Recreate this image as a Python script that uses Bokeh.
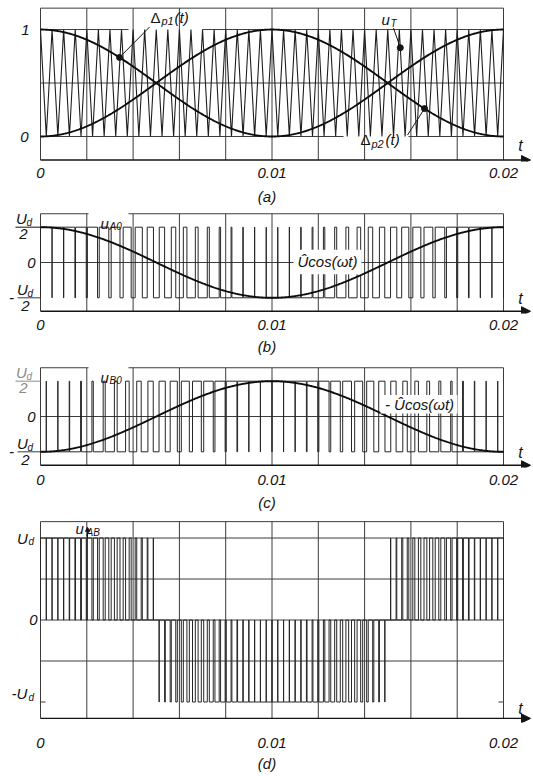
import numpy as np
from bokeh.plotting import figure
from bokeh.layouts import column
from bokeh.models import Range1d, FixedTicker, Label, Arrow, NormalHead
from bokeh.embed import file_html
from bokeh.resources import INLINE

# ---------------- data ----------------
T_PERIOD = 0.02            # fundamental period [s]
CARRIER_PERIODS = 40       # triangle carrier periods per fundamental period
MOD_INDEX = 1.0            # modulation index
x_ticks = [0, 0.01, 0.02]
x_tick_labels = ["0", "0.01", "0.02"]
grid_t = [0.0, 0.002, 0.004, 0.006, 0.008, 0.010, 0.012, 0.014, 0.016, 0.018, 0.020]
a_levels = [1.2, 1.0, 0.5, 0.0, -0.22]       # panel (a) frame / grid levels
bc_levels = [1.38, 1.0, 0.0, -1.0, -1.38]    # panels (b), (c): Ud/2 = 1
d_levels = [1.2, 1.0, 0.5, 0.0, -0.5, -1.0, -1.2]  # panel (d): Ud = 1
panel_labels = ["(a)", "(b)", "(c)", "(d)"]

# ---------------- waveforms ----------------
t = np.linspace(0.0, T_PERIOD, 200001)
omega = 2 * np.pi / T_PERIOD
Tc = T_PERIOD / CARRIER_PERIODS
cosw = MOD_INDEX * np.cos(omega * t)
dp1 = (1 + cosw) / 2
dp2 = (1 - cosw) / 2
uT = np.abs(((t / Tc) % 1.0) * 2 - 1)
uA0 = np.where(dp1 > uT, 1.0, -1.0)
uB0 = np.where(dp2 > uT, 1.0, -1.0)
uAB = (uA0 - uB0) / 2

tv = np.arange(2 * CARRIER_PERIODS + 1) * Tc / 2
vv = np.where(np.arange(2 * CARRIER_PERIODS + 1) % 2 == 0, 1.0, 0.0)

tcurve = np.linspace(0.0, T_PERIOD, 600)
ccurve = MOD_INDEX * np.cos(omega * tcurve)


def step_path(tt, v):
    idx = np.nonzero(np.diff(v))[0]
    xs = [tt[0]]
    ys = [v[0]]
    for i in idx:
        tm = 0.5 * (tt[i] + tt[i + 1])
        xs += [tm, tm]
        ys += [v[i], v[i + 1]]
    xs.append(tt[-1])
    ys.append(v[-1])
    return xs, ys


# ---------------- layout helpers ----------------
FONT = "Liberation Sans"
GRID = "#3c3c3c"
INK = "#141414"
WAVE = "#262626"
FIG_W = 533
PX_T0, PX_T1 = 40, 503


def X(px):
    return (px - PX_T0) / (PX_T1 - PX_T0) * T_PERIOD


XS, XE = X(0), X(FIG_W)


def make_panel(fig_top, h, mbt, mbb, y0, y1, axlabel, tick_so, lab_so):
    p = figure(width=FIG_W, height=h, x_range=Range1d(XS, XE), y_range=Range1d(y0, y1),
               output_backend="svg", toolbar_location=None, y_axis_location=None,
               min_border_left=0, min_border_right=0, min_border_top=mbt, min_border_bottom=mbb)
    p.outline_line_color = None
    p.grid.visible = False
    p.background_fill_color = "white"
    ax = p.xaxis[0]
    ax.ticker = FixedTicker(ticks=x_ticks)
    ax.major_label_overrides = dict(zip(x_ticks, x_tick_labels))
    ax.axis_line_color = None
    ax.major_tick_line_color = None
    ax.minor_tick_line_color = None
    ax.major_tick_out = 0
    ax.major_tick_in = 0
    ax.major_label_standoff = tick_so
    ax.major_label_text_font = FONT
    ax.major_label_text_font_style = "italic"
    ax.major_label_text_font_size = "15px"
    ax.major_label_text_color = INK
    ax.axis_label = axlabel
    ax.axis_label_standoff = lab_so
    ax.axis_label_text_font = FONT
    ax.axis_label_text_font_style = "italic"
    ax.axis_label_text_font_size = "15px"
    ax.axis_label_text_color = INK
    ft = fig_top + mbt
    fh = h - mbt - mbb

    def Y(py):
        return y1 - (py - ft) / fh * (y1 - y0)
    return p, Y


def lab(p, x, y, s, size=15, align="center", color=INK, style="italic"):
    p.add_layout(Label(x=x, y=y, text=s, text_font=FONT, text_font_style=style,
                       text_font_size=f"{size}px", text_align=align, text_baseline="middle",
                       text_color=color))


def hseg(p, y, a=0.0, b=T_PERIOD, color=GRID, w=1):
    p.segment(x0=[a], y0=[y], x1=[b], y1=[y], line_color=color, line_width=w)


def vgrid(p, ybot, ytop):
    p.segment(x0=grid_t, y0=[ybot] * len(grid_t), x1=grid_t, y1=[ytop] * len(grid_t),
              line_color=GRID, line_width=1)


def axis_arrow(p, y):
    p.add_layout(Arrow(x_start=0.0, y_start=y, x_end=X(530), y_end=y, line_color=INK, line_width=1.3,
                       end=NormalHead(size=9, fill_color=INK, line_color=INK)))


def white_box(p, l, r, top, bot):
    p.quad(left=[l], right=[r], top=[top], bottom=[bot], fill_color="white", line_color=None)


# ---------------- panel (a) ----------------
pa, Ya = make_panel(0, 207, 5, 43, -0.2339, 1.2248, panel_labels[0], 6, 7)
a_top, a_one, a_half, a_zero, a_bot = a_levels
vgrid(pa, a_bot, a_top)
hseg(pa, a_top)
hseg(pa, a_half)
hseg(pa, a_one, 0.0, X(128))
hseg(pa, a_one, X(202), T_PERIOD)
hseg(pa, a_zero, 0.0, X(343))
hseg(pa, a_zero, X(408), T_PERIOD)
pa.line(tv, vv, line_color="#1e1e1e", line_width=1.1)
pa.line(tcurve, (1 + ccurve) / 2, line_color="#0d0d0d", line_width=1.9)
pa.line(tcurve, (1 - ccurve) / 2, line_color="#0d0d0d", line_width=1.9)
axis_arrow(pa, a_bot)
# markers with leader lines
t_d1 = X(119)
y_d1 = (1 + MOD_INDEX * np.cos(omega * t_d1)) / 2
t_d2 = X(424)
y_d2 = (1 - MOD_INDEX * np.cos(omega * t_d2)) / 2
t_dT = 31.085 * Tc
y_dT = abs(((t_dT / Tc) % 1.0) * 2 - 1)
pa.line([X(149), t_d1], [Ya(27), y_d1], line_color=INK, line_width=1)
pa.line([X(393), t_dT], [Ya(28), y_dT], line_color=INK, line_width=1)
pa.line([X(407), t_d2], [Ya(137), y_d2], line_color=INK, line_width=1)
pa.scatter([t_d1, t_dT, t_d2], [y_d1, y_dT, y_d2], size=6, color=INK)
lab(pa, X(150), Ya(17), "\u0394", 15, "left", style="normal")
lab(pa, X(161), Ya(21), "p1", 11, "left")
lab(pa, X(174), Ya(17), "(t)", 15, "left")
lab(pa, X(381), Ya(19), "u", 15, "left")
lab(pa, X(390), Ya(23), "T", 10, "left")
lab(pa, X(360), Ya(142), "\u0394", 15, "left", style="normal")
lab(pa, X(371), Ya(146), "p2", 11, "left")
lab(pa, X(385), Ya(142), "(t)", 15, "left")
lab(pa, X(25), Ya(30), "1", 15)
lab(pa, X(24), Ya(139), "0", 15)
lab(pa, X(520), Ya(148), "t", 16)

# ---------------- panels (b) and (c) ----------------
def pwm_panel(fig_top, h, mbt, mbb, axlabel, tick_so, lab_so, wave, sign, sub, top_col):
    p, Y = make_panel(fig_top, h, mbt, mbb, -1.444, 1.444, axlabel, tick_so, lab_so)
    b_top, b_one, b_zero, b_mone, b_bot = bc_levels
    vgrid(p, b_bot, b_top)
    hseg(p, b_top)
    hseg(p, b_zero)
    xs, ys = step_path(t, wave)
    p.line(xs, ys, line_color=WAVE, line_width=1)
    p.line(tcurve, sign * ccurve, line_color="#0d0d0d", line_width=1.9)
    axis_arrow(p, b_bot)
    # fraction tick labels
    p.segment(x0=[X(15)], y0=[b_one], x1=[X(40)], y1=[b_one], line_color=top_col, line_width=1)
    p.segment(x0=[X(17)], y0=[b_mone], x1=[X(40)], y1=[b_mone], line_color=GRID, line_width=1)
    ppu = 36.0
    lab(p, X(21), b_one + 9 / ppu, "U", 15, color=top_col)
    lab(p, X(26), b_one + 5 / ppu, "d", 10, "left", color=top_col)
    lab(p, X(23), b_one - 7 / ppu, "2", 15, color=top_col)
    lab(p, X(31), b_zero, "0", 15)
    lab(p, X(11), b_mone, "-", 15)
    lab(p, X(22), b_mone + 8 / ppu, "U", 15)
    lab(p, X(27), b_mone + 4 / ppu, "d", 10, "left")
    lab(p, X(25), b_mone - 8 / ppu, "2", 15)
    # signal name at top left on white
    white_box(p, X(88), X(128), b_top + 0.2, b_one + 0.03)
    lab(p, X(100), b_one + 4 / ppu, "u", 15, "left")
    lab(p, X(109), b_one + 1 / ppu, sub, 10, "left")
    lab(p, X(520), b_bot + 13 / ppu, "t", 16)
    return p, Y


pb, Yb = pwm_panel(207, 150, 4, 42, panel_labels[1], 6, 5, uA0, 1.0, "A0", INK)
white_box(pb, X(293), X(361), Yb(250), Yb(275))
lab(pb, X(327), Yb(262), "\u00dbcos(\u03c9t)", 15)

pc, Yc = pwm_panel(357, 156, 8, 44, panel_labels[2], 7, 6, uB0, -1.0, "B0", "#8c8c8c")
white_box(pc, X(380), X(457), Yc(395), Yc(414))
lab(pc, X(419), Yc(405), "- \u00dbcos(\u03c9t)", 15)

# ---------------- panel (d) ----------------
pd_, Yd = make_panel(513, 261, 6, 47, -1.25, 1.226, panel_labels[3], 15, 4)
d_top, d_one, d_half, d_zero, d_mhalf, d_mone, d_bot = d_levels
vgrid(pd_, d_bot, d_top)
for lv in (d_top, d_one, d_half, d_zero, d_mhalf):
    hseg(pd_, lv)
hseg(pd_, d_mone, 0.0, X(45))
hseg(pd_, d_mone, X(498), T_PERIOD)
xs, ys = step_path(t, uAB)
pd_.line(xs, ys, line_color=WAVE, line_width=1)
axis_arrow(pd_, d_bot)
pd_.add_layout(Arrow(x_start=X(87), y_start=d_one, x_end=X(87), y_end=Yd(527), line_color=INK,
                     line_width=1, end=NormalHead(size=4, fill_color=INK, line_color=INK)))
lab(pd_, X(75), Yd(528), "u", 15, "left")
lab(pd_, X(86), Yd(532), "AB", 10, "left")
lab(pd_, X(22), Yd(538), "U", 15)
lab(pd_, X(28), Yd(542), "d", 10, "left")
lab(pd_, X(33), Yd(622), "0", 15)
lab(pd_, X(19), Yd(697), "-U", 15)
lab(pd_, X(28), Yd(701), "d", 10, "left")
lab(pd_, X(520), Yd(713), "t", 16)

layout = column(pa, pb, pc, pd_, spacing=0)
open("out.html", "w").write(file_html(layout, INLINE))
